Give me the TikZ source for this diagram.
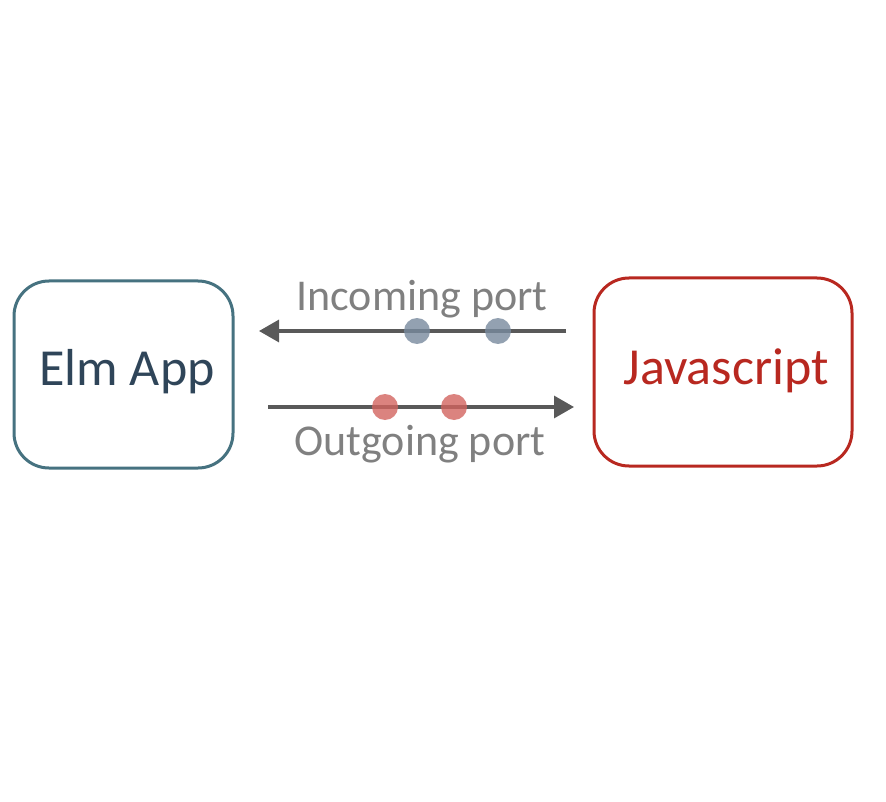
\documentclass[tikz,border=0pt]{standalone}
\usepackage{fontspec}
\setmainfont{Carlito}
\usetikzlibrary{arrows.meta}
\definecolor{elmc}{RGB}{70,114,128}
\definecolor{elmtext}{RGB}{47,69,89}
\definecolor{jsc}{RGB}{184,40,32}
\definecolor{arrowc}{RGB}{89,89,89}
\definecolor{labelc}{RGB}{128,128,128}
\definecolor{bluedot}{RGB}{120,138,158}
\definecolor{reddot}{RGB}{210,100,95}
\tikzset{
  box/.style={draw, line width=3pt, rounded corners=35pt, fill=white},
  portline/.style={draw=arrowc, line width=3.2pt, -{Triangle[length=20pt,width=22pt]}},
  dot/.style={circle, inner sep=0pt, minimum size=26pt, opacity=0.8},
  portlabel/.style={text=labelc, font=\fontsize{44}{50}\selectfont, anchor=base},
  boxlabel/.style={font=\fontsize{52}{60}\selectfont, anchor=base}
}
\begin{document}
\begin{tikzpicture}[x=1pt,y=-1pt]
\useasboundingbox (0,0) rectangle (886,802);
\draw[box, draw=elmc] (14,281) rectangle (233,468);
\draw[box, draw=jsc] (594,278) rectangle (852,466);
\node[boxlabel, text=elmtext] (elm) at (127,385) {Elm App};
\node[boxlabel, text=jsc] (js) at (726,384) {Javascript};
\coordinate (inS) at (566,331);
\coordinate (inE) at (259,331);
\coordinate (outS) at (268,407);
\coordinate (outE) at (574,407);
\draw[portline] (inS) -- (inE);
\draw[portline] (outS) -- (outE);
\node[dot, fill=bluedot] (b1) at (417,331) {};
\node[dot, fill=bluedot] (b2) at (498,331) {};
\node[dot, fill=reddot] (r1) at (385,407) {};
\node[dot, fill=reddot] (r2) at (454,407) {};
\node[portlabel] (inl) at (422,310) {Incoming port};
\node[portlabel] (outl) at (420,455) {Outgoing port};
\end{tikzpicture}
\end{document}
